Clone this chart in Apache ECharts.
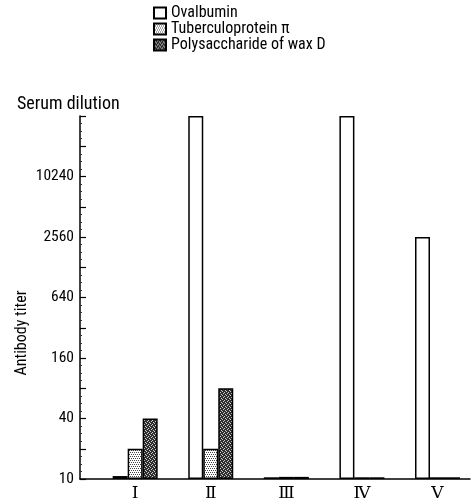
<!DOCTYPE html>
<html>
<head>
<meta charset="utf-8">
<script src="https://cdn.jsdelivr.net/npm/echarts@6/dist/echarts.min.js"></script>
<style>
html,body{margin:0;padding:0;background:#fff;}
#c{width:473px;height:504px;}
</style>
</head>
<body>
<div id="c"></div>
<script>
// ---- data ----
var categories = ['Ⅰ', 'Ⅱ', 'Ⅲ', 'Ⅳ', 'Ⅴ'];
var seriesNames = ['Ovalbumin', 'Tuberculoprotein π', 'Polysaccharide of wax D'];
var ovalbumin = [10.7, 40960, 10.4, 40960, 2560];
var tuberculoprotein = [20, 20, 10.5, 10.4, 10.4];
var polysaccharide = [40, 80, 10.5, 10.4, 10.4];
var tickValues = [10, 40, 160, 640, 2560, 10240];
var baseTiter = 10;

var FONT = "'Roboto Condensed', 'DejaVu Sans Condensed', sans-serif";

function toLog(v) { return Math.log(v / baseTiter) / Math.LN2; }

function makePattern(bg, fg, size, dots) {
  var c = document.createElement('canvas');
  c.width = size; c.height = size;
  var g = c.getContext('2d');
  g.fillStyle = bg; g.fillRect(0, 0, size, size);
  g.fillStyle = fg;
  dots.forEach(function (d) { g.fillRect(d[0], d[1], 1, 1); });
  return { image: c, repeat: 'repeat' };
}
var lightPat = makePattern('#ffffff', '#444444', 4, [[0,0],[2,0],[1,2],[3,2]]);
var darkPat = makePattern('#2e2e2e', '#cfcfcf', 4, [[0,0],[3,1],[1,2],[2,3]]);

var fills = ['#ffffff', lightPat, darkPat];
var values = [ovalbumin, tuberculoprotein, polysaccharide];

var series = values.map(function (arr, si) {
  return {
    name: seriesNames[si],
    type: 'bar',
    barWidth: 15,
    barGap: '0%',
    data: arr.map(function (v, i) { return [i, toLog(v)]; }),
    itemStyle: { color: fills[si], borderColor: '#000', borderWidth: 1.5 },
    emphasis: { disabled: true }
  };
});

var chart = echarts.init(document.getElementById('c'), null, { renderer: 'canvas' });
chart.setOption({
  animation: false,
  backgroundColor: '#fff',
  textStyle: { fontFamily: FONT },
  grid: { left: 80, right: 3, top: 116, bottom: 25 },
  legend: {
    orient: 'vertical',
    left: 153, top: 5, padding: 0,
    itemWidth: 12, itemHeight: 11, itemGap: 0,
    icon: 'rect',
    data: seriesNames,
    textStyle: { fontFamily: FONT, fontSize: 16, lineHeight: 16, color: '#000', padding: [0,0,0,0] }
  },
  xAxis: {
    type: 'value',
    min: -0.73, max: 4.43,
    splitLine: { show: false },
    axisLine: { show: true, onZero: false, lineStyle: { color: '#000', width: 1.5 } },
    axisTick: { show: false },
    axisLabel: {
      customValues: [0, 1, 2, 3, 4],
      formatter: function (v) { return categories[Math.round(v)] || ''; },
      fontFamily: "'DejaVu Serif', 'Liberation Serif', serif",
      fontSize: 17, color: '#000', margin: 6
    }
  },
  yAxis: {
    type: 'value',
    min: 0, max: 12, interval: 1,
    splitLine: { show: false },
    axisLine: { show: true, onZero: false, lineStyle: { color: '#000', width: 1.5 } },
    axisTick: { show: true, inside: true, length: 6, lineStyle: { color: '#000', width: 1.2 } },
    minorTick: { show: true, splitNumber: 4, length: 2, lineStyle: { color: '#333' } },
    axisLabel: {
      fontFamily: FONT, fontSize: 15.5, color: '#000', margin: 6,
      formatter: function (v) {
        var r = Math.round(v);
        if (r % 2 !== 0) return '';
        var t = baseTiter * Math.pow(2, r);
        return tickValues.indexOf(t) >= 0 ? String(t) : '';
      }
    }
  },
  graphic: [
    { type: 'text', x: 17, y: 104, style: { text: 'Serum dilution', font: '18px ' + FONT, fill: '#000', verticalAlign: 'middle' } },
    { type: 'text', x: 22, y: 333, rotation: Math.PI / 2, style: { text: 'Antibody titer', font: '16px ' + FONT, fill: '#000', align: 'center', verticalAlign: 'middle' } }
  ],
  series: series
});
</script>
</body>
</html>
